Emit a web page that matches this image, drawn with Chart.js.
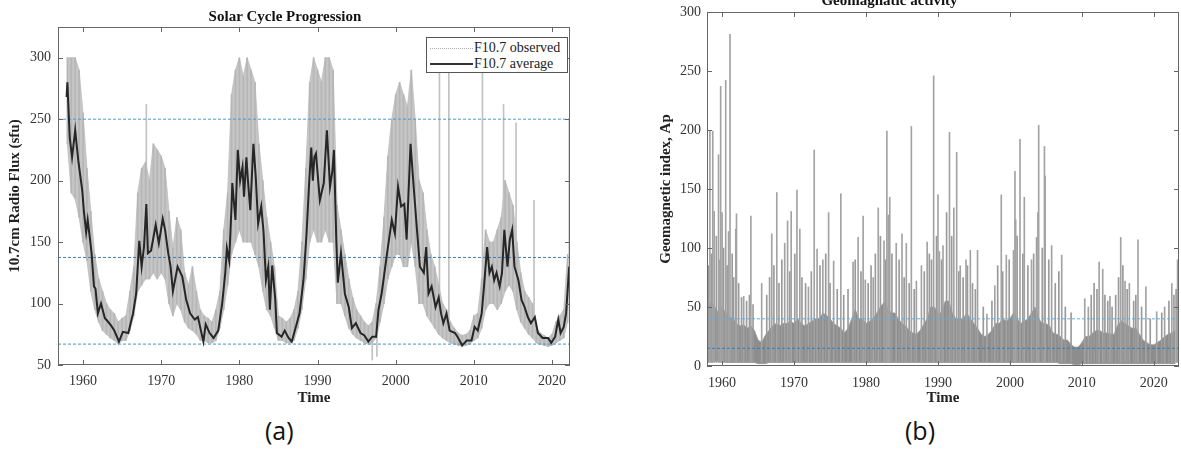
<!DOCTYPE html>
<html>
<head>
<meta charset="utf-8">
<title>Solar cycle and geomagnetic activity</title>
<script src="https://cdn.jsdelivr.net/npm/chart.js@4.4.1/dist/chart.umd.min.js"></script>
<style>
    body { margin: 0; width: 1181px; height: 450px; background: #fff; position: relative; overflow: hidden; }
    #panelA { position: absolute; left: 0; top: 0; }
    #panelB { position: absolute; left: 600px; top: -16px; }
    .caption { position: absolute; top: 413px; font-family: 'Open Sans', sans-serif; font-size: 25px; color: #111; }
    #legendA { position: absolute; left: 426px; top: 37px; width: 140px; height: 34px; border: 1px solid #555; background: #fff;
               font-family: 'Liberation Serif', serif; font-size: 14px; color: #222; }
    #legendA .row { position: absolute; left: 0; height: 16px; line-height: 16px; }
    #legendA .sample { position: absolute; left: 3px; width: 43px; }
    #legendA .label { position: absolute; left: 47px; white-space: nowrap; }
</style>
</head>
<body>

<div id="panelA"><canvas id="chartA" width="600" height="410"></canvas></div>
<div id="panelB"><canvas id="chartB" width="581" height="426"></canvas></div>

<div id="legendA">
    <div class="row" style="top:2px"><div class="sample" style="top:8px;border-top:1px dotted #aaa"></div><span class="label">F10.7 observed</span></div>
    <div class="row" style="top:18px"><div class="sample" style="top:7px;border-top:2px solid #333"></div><span class="label">F10.7 average</span></div>
</div>

<div class="caption" style="left:265px">(a)</div>
<div class="caption" style="left:905px">(b)</div>

<script>
// ---------- DATA ----------

// (a) F10.7 observed, half-year envelope of the daily values from 1958.0 to 2022.0
const obsStart = 1958;
const obsStep = 0.5;
const obsLow = [
    230, 190, 185, 170, 150, 135, 110, 95, 85, 78,
    75, 72, 70, 67, 70, 70, 78, 90, 110, 115,
    120, 120, 125, 120, 125, 120, 100, 90, 100, 95,
    85, 80, 78, 75, 70, 70, 68, 68, 70, 80,
    95, 115, 140, 150, 160, 150, 150, 150, 140, 130,
    110, 95, 90, 80, 70, 70, 68, 68, 70, 80,
    95, 120, 150, 160, 150, 150, 160, 150, 150, 100,
    100, 90, 80, 75, 72, 70, 68, 67, 68, 72,
    85, 100, 120, 130, 140, 140, 130, 130, 150, 130,
    100, 100, 90, 85, 80, 75, 72, 70, 68, 67,
    66, 65, 66, 67, 70, 72, 80, 95, 100, 100,
    95, 100, 110, 115, 110, 95, 85, 80, 75, 72,
    68, 67, 66, 65, 66, 68, 70, 72, 85
];
const obsHigh = [
    300, 300, 300, 290, 255, 210, 175, 140, 120, 110,
    100, 95, 92, 85, 88, 90, 110, 130, 190, 210,
    215, 200, 230, 225, 220, 210, 175, 145, 170, 160,
    125, 115, 130, 110, 95, 90, 88, 85, 95, 110,
    160, 190, 270, 290, 300, 285, 300, 290, 280, 230,
    200, 170, 150, 130, 90, 88, 85, 88, 95, 110,
    150, 210, 280, 300, 290, 280, 300, 300, 290, 180,
    160, 140, 120, 105, 95, 90, 85, 82, 85, 100,
    130, 170, 220, 250, 270, 280, 270, 260, 290, 250,
    200, 190, 160, 140, 130, 115, 100, 95, 85, 80,
    76, 74, 75, 78, 90, 92, 120, 160, 150, 150,
    160, 170, 200, 190, 180, 150, 125, 110, 105, 100,
    80, 76, 74, 72, 75, 85, 90, 95, 140
];
// single days standing out of the band
const obsSpikeYears = [1968.1, 1997.0, 1997.6, 2005.6, 2006.8, 2011.1, 2013.8, 2015.4, 2017.7, 2022.2];
const obsSpikeLow   = [130, 54, 57, 100, 80, 90, 150, 150, 90, 100];
const obsSpikeHigh  = [262, 75, 80, 288, 288, 288, 262, 247, 184, 250];

// (a) F10.7 average (dark line)
const avgYears = [
    1957.9, 1958.0, 1958.3, 1958.6, 1959.0, 1959.4, 1959.9, 1960.1, 1960.4, 1960.6,
    1961.1, 1961.4, 1961.6, 1961.9, 1962.3, 1962.8, 1963.1, 1963.6, 1964.0, 1964.6,
    1965.1, 1965.8, 1966.4, 1966.8, 1967.0, 1967.2, 1967.5, 1967.8, 1968.1, 1968.3,
    1968.7, 1969.3, 1969.7, 1970.2, 1970.5, 1970.9, 1971.2, 1971.5, 1972.1, 1972.7,
    1973.2, 1973.7, 1974.3, 1974.7, 1975.4, 1975.7, 1976.2, 1976.7, 1977.3, 1977.8,
    1978.2, 1978.4, 1978.7, 1979.0, 1979.1, 1979.5, 1979.8, 1980.1, 1980.4, 1980.6,
    1980.9, 1981.1, 1981.4, 1981.8, 1982.1, 1982.4, 1982.8, 1983.1, 1983.4, 1983.7,
    1983.9, 1984.2, 1984.6, 1984.8, 1985.4, 1985.8, 1986.3, 1986.7, 1987.1, 1987.7,
    1988.2, 1988.6, 1988.9, 1989.2, 1989.4, 1989.6, 1989.8, 1990.3, 1990.8, 1991.2,
    1991.6, 1991.9, 1992.1, 1992.4, 1992.6, 1993.0, 1993.5, 1994.0, 1994.4, 1994.9,
    1995.5, 1996.0, 1996.5, 1997.0, 1997.5, 1997.8, 1998.2, 1998.9, 1999.5, 1999.9,
    2000.3, 2000.7, 2001.1, 2001.4, 2001.9, 2002.3, 2002.7, 2003.1, 2003.6, 2003.9,
    2004.2, 2004.6, 2005.1, 2005.5, 2005.8, 2006.1, 2006.5, 2006.9, 2007.6, 2008.0,
    2008.5, 2009.1, 2009.7, 2010.1, 2010.5, 2011.0, 2011.3, 2011.7, 2012.0, 2012.3,
    2012.6, 2012.9, 2013.3, 2013.6, 2013.9, 2014.3, 2014.6, 2014.9, 2015.2, 2015.7,
    2016.1, 2016.5, 2016.9, 2017.3, 2017.8, 2018.2, 2018.8, 2019.5, 2019.9, 2020.4,
    2020.8, 2021.1, 2021.5, 2021.8, 2022.2
];
const avgFlux = [
    268, 280, 235, 219, 241, 216, 192, 176, 158, 168,
    141, 114, 112, 92, 100, 88, 86, 82, 78, 69,
    77, 76, 92, 108, 130, 151, 130, 146, 181, 141,
    143, 164, 149, 169, 160, 141, 130, 110, 130, 122,
    103, 92, 87, 89, 69, 83, 76, 72, 78, 100,
    125, 145, 135, 179, 198, 168, 225, 200, 211, 187,
    219, 200, 176, 230, 203, 165, 179, 158, 119, 130,
    95, 131, 103, 76, 73, 78, 72, 69, 78, 92,
    119, 157, 195, 227, 200, 219, 222, 184, 198, 241,
    195, 208, 225, 152, 117, 141, 108, 97, 80, 84,
    76, 74, 69, 73, 73, 95, 108, 141, 168, 157,
    195, 179, 181, 152, 230, 195, 162, 130, 125, 146,
    108, 114, 97, 105, 92, 84, 92, 78, 76, 72,
    66, 70, 70, 81, 78, 92, 114, 146, 125, 130,
    119, 125, 114, 125, 160, 130, 152, 160, 130, 119,
    103, 97, 89, 84, 89, 76, 72, 72, 68, 73,
    87, 76, 81, 92, 130
];
const fluxRefLevels = [250, 137.5, 67];

// (b) Ap index, half-year envelope of the dense band from 1958.0 to 2023.0
const apStart = 1958;
const apStep = 0.5;
const apLow = [
    4, 4, 4, 4, 4, 3, 3, 3, 3, 3,
    3, 3, 3, 3, 2, 2, 2, 3, 3, 3,
    3, 3, 3, 3, 3, 3, 3, 3, 3, 3,
    3, 3, 3, 3, 3, 3, 3, 3, 3, 3,
    3, 3, 3, 3, 3, 3, 3, 3, 3, 3,
    3, 3, 3, 3, 3, 3, 3, 3, 3, 3,
    3, 3, 3, 3, 3, 3, 3, 3, 3, 3,
    3, 3, 3, 3, 3, 3, 3, 3, 3, 3,
    3, 3, 3, 3, 3, 3, 3, 3, 3, 3,
    3, 3, 3, 3, 3, 3, 3, 3, 2, 2,
    2, 2, 1, 1, 2, 2, 2, 2, 2, 2,
    2, 2, 2, 2, 2, 2, 2, 2, 2, 2,
    2, 2, 2, 2, 2, 2, 2, 2, 2, 2,
    2
];
const apHigh = [
    50, 55, 50, 45, 50, 45, 42, 40, 36, 34,
    35, 32, 34, 30, 22, 20, 26, 30, 34, 36,
    34, 36, 36, 38, 36, 40, 36, 34, 36, 38,
    40, 40, 45, 43, 40, 36, 34, 32, 28, 32,
    40, 48, 40, 40, 36, 38, 40, 45, 50, 54,
    50, 45, 45, 40, 36, 34, 30, 28, 27, 30,
    35, 40, 50, 50, 45, 45, 55, 55, 45, 40,
    40, 40, 45, 40, 36, 32, 27, 25, 27, 30,
    36, 36, 40, 38, 40, 45, 40, 36, 38, 40,
    45, 50, 40, 36, 36, 34, 28, 27, 25, 22,
    22, 18, 16, 16, 20, 25, 25, 28, 30, 30,
    28, 28, 27, 27, 35, 38, 36, 34, 32, 32,
    27, 22, 20, 18, 18, 20, 22, 25, 27, 28,
    30
];
// storm days reaching far above the band
const apSpikeYears = [
    1958.3, 1958.7, 1958.9, 1959.5, 1959.8, 1960.0, 1960.5, 1960.9, 1961.1, 1961.9,
    1962.0, 1963.0, 1964.0, 1965.5, 1966.9, 1967.6, 1968.7, 1969.1, 1969.6, 1970.4,
    1970.8, 1972.0, 1972.8, 1973.2, 1974.0, 1974.8, 1975.5, 1976.5, 1978.2, 1978.9,
    1979.6, 1979.9, 1981.0, 1981.7, 1982.5, 1982.9, 1983.1, 1983.3, 1984.2, 1985.0,
    1985.6, 1986.3, 1987.0, 1987.7, 1988.5, 1989.4, 1990.0, 1990.2, 1990.7, 1991.6,
    1992.2, 1992.6, 1993.1, 1993.9, 1994.5, 1995.5, 1996.8, 1997.9, 1998.8, 1999.5,
    2000.5, 2000.7, 2000.8, 2001.4, 2002.0, 2003.0, 2003.7, 2004.0, 2004.8, 2004.9,
    2005.8, 2007.2, 2010.4, 2010.9, 2012.4, 2012.9, 2013.9, 2015.4, 2016.0, 2016.6,
    2017.8, 2018.9, 2020.4, 2021.5, 2022.5, 2023.3
];
const apSpikeHigh = [
    199, 199, 131, 179, 237, 130, 242, 114, 281, 116,
    129, 59, 127, 70, 112, 147, 104, 123, 131, 149,
    116, 67, 183, 99, 90, 130, 89, 146, 88, 109,
    127, 73, 75, 134, 106, 199, 128, 143, 104, 112,
    104, 203, 72, 85, 105, 246, 145, 97, 102, 198,
    134, 181, 85, 90, 98, 98, 44, 68, 145, 94,
    98, 165, 124, 192, 143, 90, 109, 204, 186, 161,
    102, 94, 57, 50, 88, 82, 59, 109, 72, 70,
    107, 67, 46, 50, 70, 90
];
// smaller disturbed days just above the band
const apMinorYears = [
    1958.1, 1958.5, 1959.2, 1959.7, 1960.2, 1960.7, 1961.4, 1961.6, 1962.3, 1962.7,
    1963.4, 1963.8, 1964.3, 1966.2, 1966.6, 1967.2, 1967.9, 1968.3, 1969.4, 1970.1,
    1971.1, 1971.6, 1972.4, 1973.6, 1974.4, 1975.0, 1976.0, 1976.9, 1977.5, 1978.5,
    1979.3, 1980.3, 1980.7, 1981.3, 1982.0, 1982.7, 1983.6, 1984.6, 1985.3, 1986.0,
    1986.7, 1988.1, 1988.8, 1989.1, 1989.8, 1990.5, 1991.2, 1991.9, 1992.9, 1993.5,
    1994.1, 1994.8, 1995.2, 1996.3, 1997.5, 1998.3, 1999.0, 1999.9, 2001.0, 2001.8,
    2002.5, 2003.3, 2003.9, 2004.5, 2005.4, 2006.3, 2006.8, 2007.7, 2008.5, 2011.3,
    2011.7, 2012.1, 2013.2, 2013.6, 2014.2, 2014.7, 2015.1, 2015.7, 2016.3, 2017.2,
    2017.5, 2018.3, 2019.5, 2021.1, 2022.1, 2022.8, 2023.1
];
const apMinorHigh = [
    85, 95, 110, 90, 100, 85, 95, 75, 70, 58,
    55, 60, 52, 60, 75, 85, 70, 90, 80, 95,
    75, 70, 80, 85, 95, 70, 65, 60, 65, 90,
    80, 70, 85, 95, 110, 90, 95, 90, 75, 70,
    65, 80, 95, 90, 110, 90, 130, 110, 80, 75,
    85, 70, 65, 50, 55, 85, 80, 90, 110, 95,
    85, 95, 130, 100, 90, 70, 80, 50, 45, 60,
    70, 65, 60, 55, 50, 60, 75, 85, 65, 55,
    60, 50, 40, 45, 55, 60, 65
];
const apRefLevels = [40, 15];

// axis ticks
const yearTicks = [1960, 1970, 1980, 1990, 2000, 2010, 2020];
const fluxTicks = [50, 100, 150, 200, 250, 300];
const apTicks = [0, 50, 100, 150, 200, 250, 300];

// ---------- HELPERS ----------

function seriesAt(start, step, values) {
    return values.map((v, i) => ({ x: start + i * step, y: v }));
}

function envelope(start, step, low, high) {
    return low.map((lo, i) => ({ x: start + i * step, y: [lo, high[i]] }));
}

function spikes(years, low, high) {
    return years.map((yr, i) => ({ x: yr, y: [Array.isArray(low) ? low[i] : low, high[i]] }));
}

function refLine(level, xMin, xMax, color) {
    return {
        type: 'line',
        data: [{ x: xMin, y: level }, { x: xMax, y: level }],
        borderColor: color,
        borderWidth: 1,
        borderDash: [3, 2],
        pointRadius: 0,
        order: 1
    };
}

// lower edge (no fill) + upper edge filled down to it
function band(start, step, low, high, fillColor, edgeColor) {
    return [
        { type: 'line', data: seriesAt(start, step, low), borderColor: edgeColor, borderWidth: 0.8,
          pointRadius: 0, fill: false, order: 4 },
        { type: 'line', data: seriesAt(start, step, high), borderColor: edgeColor, borderWidth: 0.8,
          pointRadius: 0, fill: '-1', backgroundColor: fillColor, order: 4 }
    ];
}

// box around the axes with inward tick marks on all four sides (MATLAB look)
const boxTicks = {
    id: 'boxTicks',
    afterDatasetsDraw(chart) {
        const { ctx, chartArea: a, scales: { x, y } } = chart;
        ctx.save();
        ctx.strokeStyle = '#666';
        ctx.lineWidth = 1;
        ctx.strokeRect(a.left + 0.5, a.top + 0.5, a.right - a.left - 1, a.bottom - a.top - 1);
        ctx.beginPath();
        x.ticks.forEach(t => {
            const px = Math.round(x.getPixelForValue(t.value)) + 0.5;
            ctx.moveTo(px, a.bottom); ctx.lineTo(px, a.bottom - 5);
            ctx.moveTo(px, a.top); ctx.lineTo(px, a.top + 5);
        });
        y.ticks.forEach(t => {
            const py = Math.round(y.getPixelForValue(t.value)) + 0.5;
            ctx.moveTo(a.left, py); ctx.lineTo(a.left + 5, py);
            ctx.moveTo(a.right, py); ctx.lineTo(a.right - 5, py);
        });
        ctx.stroke();
        ctx.restore();
    }
};

function scales(cfg) {
    return {
        x: {
            type: 'linear',
            min: cfg.xMin,
            max: cfg.xMax,
            offset: false,
            afterBuildTicks: s => { s.ticks = yearTicks.map(v => ({ value: v })); },
            afterFit: s => { s.height = cfg.xHeight; },
            grid: { display: false, drawTicks: false, offset: false },
            border: { display: false },
            ticks: { padding: cfg.xPad, color: '#333', font: { size: 14 }, callback: v => String(v) },
            title: { display: true, text: 'Time', color: '#222', font: { size: 15, weight: 'bold' }, padding: { top: 0, bottom: 3 } }
        },
        y: {
            type: 'linear',
            min: cfg.yMin,
            max: cfg.yMax,
            beginAtZero: false,
            afterBuildTicks: s => { s.ticks = cfg.yTicks.map(v => ({ value: v })); },
            afterFit: s => { s.width = cfg.yWidth; },
            grid: { display: false, drawTicks: false },
            border: { display: false },
            ticks: { padding: cfg.yPad, color: '#333', font: { size: 14 }, callback: v => String(v) },
            title: { display: true, text: cfg.yTitle, color: '#222', font: { size: 15, weight: 'bold' }, padding: { top: cfg.yTitlePad, bottom: 0 } }
        }
    };
}

Chart.defaults.font.family = "'Liberation Serif', 'DejaVu Serif', serif";
Chart.defaults.animation = false;

// ---------- (a) SOLAR CYCLE ----------
const aXMin = 1956.8, aXMax = 2022.3;
new Chart(document.getElementById('chartA'), {
    type: 'line',
    data: {
        datasets: [
            ...band(obsStart, obsStep, obsLow, obsHigh, '#c6c6c6', '#bcbcbc'),
            { type: 'bar', label: 'F10.7 observed', data: envelope(obsStart, obsStep, obsLow, obsHigh),
              backgroundColor: '#b6b6b6', barThickness: 1, grouped: false, borderWidth: 0, order: 3 },
            { type: 'bar', label: 'F10.7 spikes', data: spikes(obsSpikeYears, obsSpikeLow, obsSpikeHigh),
              backgroundColor: '#c2c2c2', barThickness: 1, grouped: false, borderWidth: 0, order: 3 },
            refLine(fluxRefLevels[0], aXMin, aXMax, '#4a9bd6'),
            refLine(fluxRefLevels[1], aXMin, aXMax, '#3f7fae'),
            refLine(fluxRefLevels[2], aXMin, aXMax, '#3b93d0'),
            { type: 'line', label: 'F10.7 average', data: avgYears.map((yr, i) => ({ x: yr, y: avgFlux[i] })),
              borderColor: '#262626', borderWidth: 2, pointRadius: 0, tension: 0, order: 0 }
        ]
    },
    options: {
        responsive: false,
        layout: { padding: { left: 0, right: 30, top: 0, bottom: 0 } },
        plugins: {
            legend: { display: false },
            tooltip: { enabled: false },
            title: { display: true, text: 'Solar Cycle Progression', color: '#111',
                     font: { size: 15, weight: 'bold' }, padding: { top: 8, bottom: 1 } }
        },
        scales: scales({ xMin: aXMin, xMax: aXMax, xHeight: 45, xPad: 8,
                         yMin: 50, yMax: 325, yTicks: fluxTicks, yWidth: 58, yPad: 7,
                         yTitle: '10.7cm Radio Flux (sfu)', yTitlePad: 6 })
    },
    plugins: [boxTicks]
});

// ---------- (b) GEOMAGNETIC ACTIVITY ----------
const bXMin = 1957.9, bXMax = 2023.5;
new Chart(document.getElementById('chartB'), {
    type: 'line',
    data: {
        datasets: [
            { type: 'bar', label: 'Ap storms', data: spikes(apSpikeYears, 3, apSpikeHigh),
              backgroundColor: '#a3a3a3', barThickness: 1, grouped: false, borderWidth: 0, order: 3 },
            { type: 'bar', label: 'Ap minor', data: spikes(apMinorYears, 3, apMinorHigh),
              backgroundColor: '#9a9a9a', barThickness: 1, grouped: false, borderWidth: 0, order: 3 },
            ...band(apStart, apStep, apLow, apHigh, '#8d8d8d', '#999999'),
            refLine(apRefLevels[0], bXMin, bXMax, '#62aee0'),
            refLine(apRefLevels[1], bXMin, bXMax, '#2f80c0')
        ]
    },
    options: {
        responsive: false,
        layout: { padding: { left: 0, right: 2, top: 0, bottom: 0 } },
        plugins: {
            legend: { display: false },
            tooltip: { enabled: false },
            title: { display: true, text: 'Geomagnatic activity', color: '#111',
                     font: { size: 15, weight: 'bold' }, padding: { top: 8, bottom: 2 } }
        },
        scales: scales({ xMin: bXMin, xMax: bXMax, xHeight: 44, xPad: 9,
                         yMin: 0, yMax: 300, yTicks: apTicks, yWidth: 107, yPad: 6,
                         yTitle: 'Geomagnetic index, Ap', yTitlePad: 57 })
    },
    plugins: [boxTicks]
});
</script>
</body>
</html>
